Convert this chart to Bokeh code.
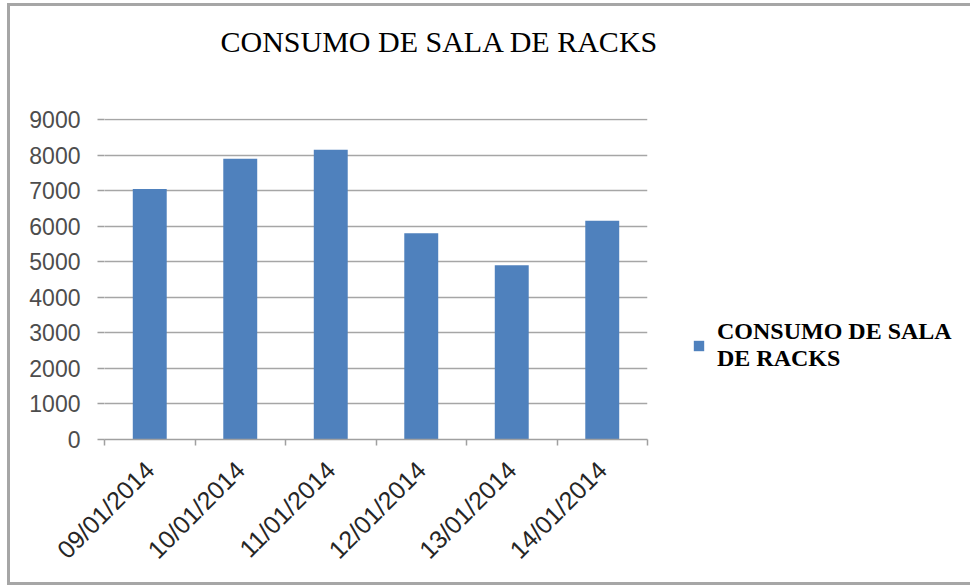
from math import pi
from bokeh.plotting import figure
from bokeh.layouts import row, column
from bokeh.models import Range1d, FixedTicker, Legend, LegendItem, Label
from bokeh.embed import file_html
from bokeh.resources import INLINE

# ---- data ----
dates = ["09/01/2014", "10/01/2014", "11/01/2014", "12/01/2014", "13/01/2014", "14/01/2014"]
consumo = [7050, 7900, 8150, 5800, 4900, 6150]
y_ticks = [0, 1000, 2000, 3000, 4000, 5000, 6000, 7000, 8000, 9000]
series_name = "CONSUMO DE SALA\nDE RACKS"
chart_title = "CONSUMO DE SALA DE RACKS"

BAR_COLOR = "#4f81bd"
n = len(dates)
x_pos = [i + 0.5 for i in range(n)]
boundaries = list(range(n + 1))


def blank(fig):
    fig.axis.visible = False
    fig.grid.visible = False
    fig.outline_line_color = None


# ---- title strip ----
pt = figure(width=960, height=70, x_range=Range1d(0, 1), y_range=Range1d(0, 1),
            output_backend="svg", toolbar_location=None,
            min_border_left=0, min_border_right=0, min_border_top=0, min_border_bottom=0)
blank(pt)
pt.add_layout(Label(x=210, y=35, x_units="screen", y_units="screen", text=chart_title,
                    text_font="Liberation Serif", text_font_size="30px",
                    text_color="#000000", text_baseline="alphabetic", text_align="left"))

# ---- chart ----
p = figure(width=680, height=506,
           x_range=Range1d(0, n), y_range=Range1d(y_ticks[0], y_ticks[-1] * 1.0033),
           output_backend="svg", toolbar_location=None,
           min_border_left=94, min_border_right=43,
           min_border_top=42, min_border_bottom=143)

r = p.vbar(x=x_pos, top=consumo, width=0.375, fill_color=BAR_COLOR, line_color=None)

# x axis
p.xaxis.ticker = FixedTicker(ticks=x_pos, minor_ticks=boundaries)
p.xaxis.major_label_overrides = {x: d for x, d in zip(x_pos, dates)}
p.xaxis.major_tick_line_color = None
p.xaxis.minor_tick_line_color = "#a0a0a0"
p.xaxis.minor_tick_line_width = 1.5
p.xaxis.minor_tick_in = 0
p.xaxis.minor_tick_out = 6
p.xaxis.axis_line_color = "#a0a0a0"
p.xaxis.axis_line_width = 1.5
p.xaxis.major_label_orientation = pi / 4
p.xaxis.major_label_standoff = 20
p.xaxis.major_label_text_font = "Liberation Sans"
p.xaxis.major_label_text_font_size = "25px"
p.xaxis.major_label_text_font_style = "normal"
p.xaxis.major_label_text_color = "#262626"

# y axis
p.yaxis.ticker = FixedTicker(ticks=y_ticks)
p.yaxis.axis_line_color = None
p.yaxis.major_tick_line_color = "#a0a0a0"
p.yaxis.major_tick_line_width = 1.5
p.yaxis.major_tick_in = 0
p.yaxis.major_tick_out = 7
p.yaxis.minor_tick_line_color = None
p.yaxis.major_label_standoff = 17
p.yaxis.major_label_text_font = "Liberation Sans"
p.yaxis.major_label_text_font_size = "23px"
p.yaxis.major_label_text_color = "#4d4d4d"

# grid
p.xgrid.visible = False
p.ygrid.ticker = FixedTicker(ticks=y_ticks)
p.ygrid.grid_line_color = "#a6a6a6"
p.ygrid.grid_line_width = 1.5
p.outline_line_color = None

# ---- legend strip ----
p2 = figure(width=280, height=506, x_range=Range1d(0, 1), y_range=Range1d(0, 1),
            output_backend="svg", toolbar_location=None,
            min_border_left=0, min_border_right=0, min_border_top=0, min_border_bottom=0)
blank(p2)
r2 = p2.vbar(x=[float("nan")], top=[float("nan")], width=0.375,
             fill_color=BAR_COLOR, line_color=None)

legend = Legend(items=[LegendItem(label=series_name, renderers=[r2])],
                location=(2, 67))
legend.label_text_font = "Liberation Serif"
legend.label_text_font_style = "bold"
legend.label_text_font_size = "24px"
legend.label_text_line_height = 1.3
legend.label_text_color = "#000000"
legend.glyph_width = 13
legend.glyph_height = 13
legend.label_standoff = 12
legend.border_line_color = None
legend.background_fill_alpha = 0
legend.padding = 0
legend.margin = 0
p2.add_layout(legend)

layout = column(pt, row(p, p2, spacing=0), spacing=0)
layout.styles = {"margin-left": "10px", "margin-top": "6px",
                 "box-shadow": "-3px 0 0 0 #a6a6a6, 0 -3px 0 0 #a6a6a6, -3px -3px 0 0 #a6a6a6, 0 3px 0 0 #a6a6a6, -3px 3px 0 0 #a6a6a6"}

open("out.html", "w").write(file_html(layout, INLINE))
